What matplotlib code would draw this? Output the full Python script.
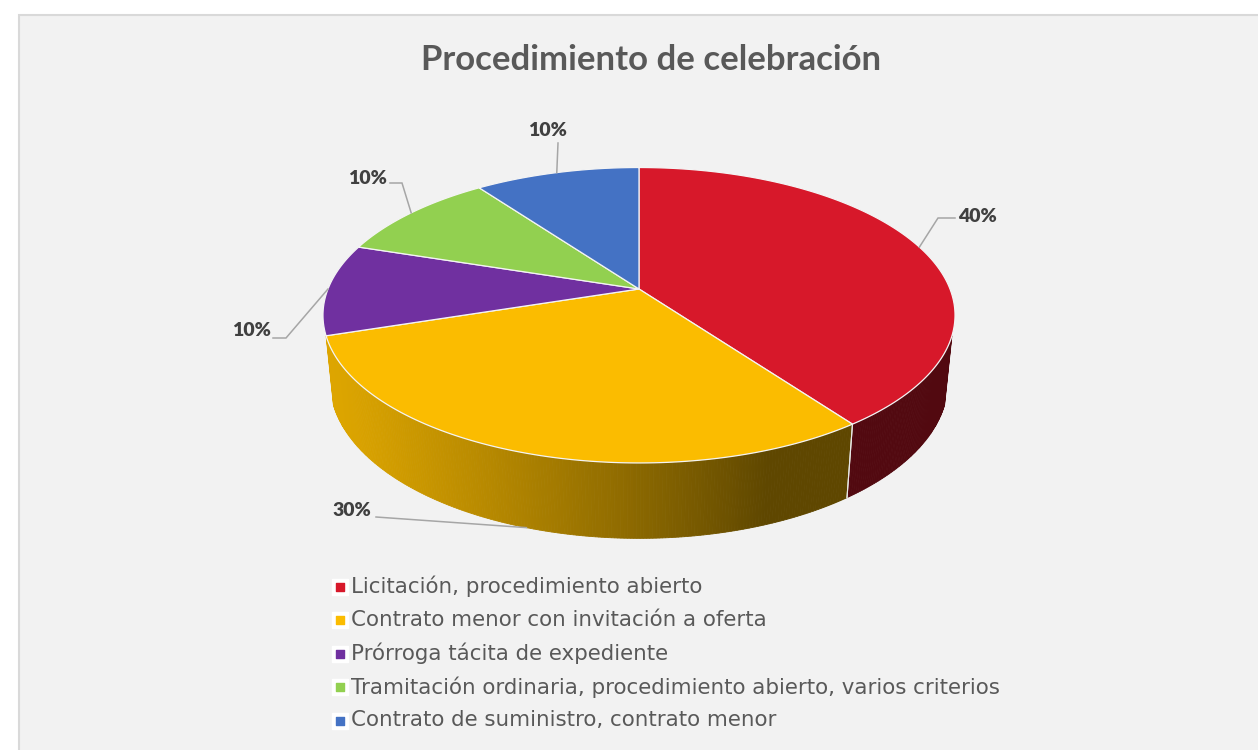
import numpy as np
import matplotlib
matplotlib.use("Agg")
import matplotlib.pyplot as plt
from matplotlib.patches import Polygon, Rectangle

# data
labels = ["Licitación, procedimiento abierto",
          "Contrato menor con invitación a oferta",
          "Prórroga tácita de expediente",
          "Tramitación ordinaria, procedimiento abierto, varios criterios",
          "Contrato de suministro, contrato menor"]
values = [40, 30, 10, 10, 10]
colors = ["#d7182a", "#fbbc00", "#7030a0", "#92d050", "#4472c4"]
title = "Procedimiento de celebración"

# 3d pie geometry (pixels)
cx, cy = 639, 289
F = 1555.0
R = 0.2
T = 0.049
sphi = 0.46
cphi = np.sqrt(1 - sphi ** 2)


def project(theta, h):
    t = np.radians(theta)
    X = R * np.cos(t)
    Y = R * np.sin(t)
    yc = Y * sphi + h * cphi
    depth = 1 + Y * cphi - h * sphi
    return cx + F * X / depth, cy - F * yc / depth


def shade(color, theta):
    rgb = np.array(matplotlib.colors.to_rgb(color))
    k = 0.38 + 0.5 * max(0.0, np.cos(np.radians(theta + 160)))
    return tuple(rgb * k)


# visible range of the outer side
lim = 18.0
vis_lo, vis_hi = -180 + lim, -lim

fig = plt.figure(figsize=(12.58, 7.5), dpi=100)
fig.patch.set_facecolor("white")
ax = fig.add_axes([0, 0, 1, 1])
ax.set_xlim(0, 1258)
ax.set_ylim(750, 0)
ax.axis("off")

ax.add_patch(Rectangle((19, 15), 1300, 800, facecolor="#f2f2f2",
                       edgecolor="#d9d9d9", linewidth=1.5, zorder=0))

total = float(sum(values))
starts = []
a = 90.0
for v in values:
    starts.append((a, a - 360 * v / total))
    a -= 360 * v / total

# sides
for (a0, a1), col in zip(starts, colors):
    hi, lo = a0, a1
    for off in (0, -360):
        h2, l2 = min(hi + off, vis_hi), max(lo + off, vis_lo)
        if h2 <= l2:
            continue
        n = int((h2 - l2) / 0.5) + 1
        ths = np.linspace(l2, h2, n + 1)
        for t1, t2 in zip(ths[:-1], ths[1:]):
            pts = [project(t1, 0), project(t2, 0), project(t2, -T), project(t1, -T)]
            c = shade(col, (t1 + t2) / 2)
            ax.add_patch(Polygon(pts, closed=True, facecolor=c, edgecolor=c,
                                 linewidth=0.6, zorder=2))
        # boundary lines between slices on the side
        for tb in (h2, l2):
            if vis_lo + 0.5 < tb < vis_hi - 0.5:
                p, q = project(tb, 0), project(tb, -T)
                ax.plot([p[0], q[0]], [p[1], q[1]], color="#e8e8e8", lw=0.8, zorder=3)

# top faces
for (a0, a1), col in zip(starts, colors):
    ths = np.linspace(a0, a1, 200)
    pts = [(cx, cy)] + [project(t, 0) for t in ths]
    ax.add_patch(Polygon(pts, closed=True, facecolor=col, edgecolor="#f4f4f4",
                         linewidth=0.9, joinstyle="round", zorder=4))

# data labels with leader lines
label_pos = [(977, 216), (352, 511), (251, 331), (367, 178), (547, 131)]
elbows = [[(938, 218), (955, 218)],
          [(376, 517)],
          [(286, 338), (273, 338)],
          [(402, 183), (390, 183)],
          [(558, 143)]]
for i, ((a0, a1), v) in enumerate(zip(starts, values)):
    mid = (a0 + a1) / 2
    if np.sin(np.radians(mid)) < -0.5:
        anchor = project(mid, -T)
    else:
        anchor = project(mid, 0)
    path = [anchor] + elbows[i]
    ax.plot([p[0] for p in path], [p[1] for p in path], color="#a6a6a6",
            lw=1.1, zorder=5, solid_joinstyle="miter")
    ax.text(label_pos[i][0], label_pos[i][1], "%d%%" % round(100 * v / total),
            ha="center", va="center", fontsize=14, fontweight="heavy",
            family="Lato", color="#404040", zorder=6)

ax.text(651, 60, title, ha="center", va="center", fontsize=25,
        fontweight="bold", family="Lato", color="#595959")

# legend
row_y = [586.5, 620, 653.5, 687, 720.5]
for lab, col, y in zip(labels, colors, row_y):
    ax.scatter([340], [y], marker="s", s=125, color="white", zorder=6)
    ax.scatter([340], [y], marker="s", s=26, color=col, zorder=7)
    ax.text(351, y, lab, ha="left", va="center", fontsize=15.4,
            family="DejaVu Sans", color="#595959")

fig.savefig("out.png", dpi=100, facecolor=fig.get_facecolor())
